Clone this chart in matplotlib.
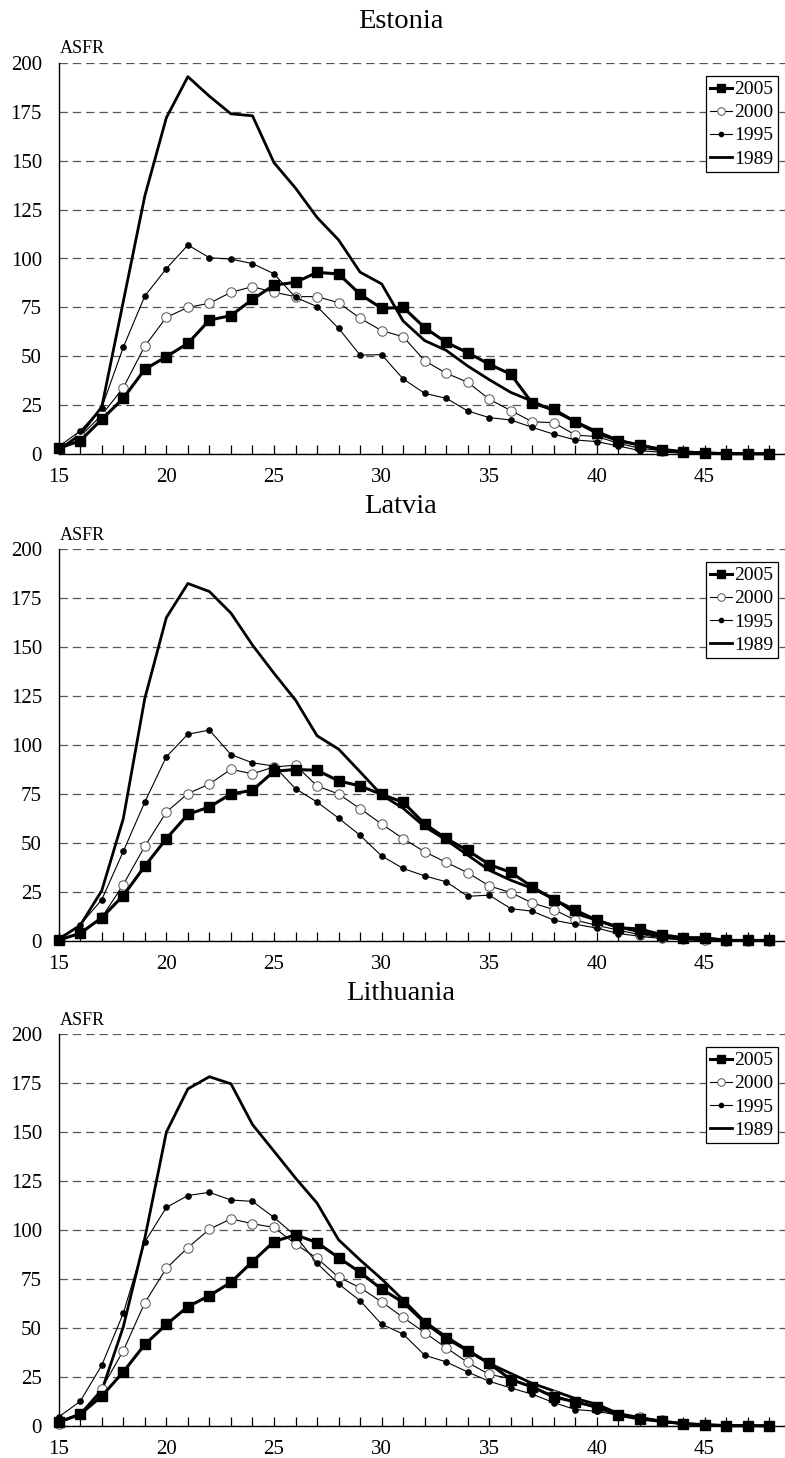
import matplotlib
matplotlib.use("Agg")
import matplotlib.pyplot as plt
from matplotlib.ticker import MultipleLocator

plt.rcParams["font.family"] = ["Liberation Serif", "DejaVu Serif"]
plt.rcParams["lines.scale_dashes"] = False

ages = list(range(15, 49))
years = ["2005", "2000", "1995", "1989"]
countries = ["Estonia", "Latvia", "Lithuania"]

est_2005 = [2.9, 6.8, 17.7, 28.5, 43.3, 49.8, 56.6, 68.5, 70.8, 79.1, 86.4, 87.8, 92.9, 92.1, 81.7,
            74.5, 75.0, 64.6, 57.1, 51.8, 45.9, 40.8, 25.9, 22.8, 16.5, 10.6, 6.8, 4.6, 2.0, 1.0,
            0.5, 0.1, 0.1, 0.1]
est_2000 = [3, 9, 20, 33.9, 55.2, 69.9, 75.0, 77.1, 82.7, 85.6, 82.7, 80.5, 80.5, 77.4, 69.4,
            63.1, 60.0, 47.7, 41.3, 36.7, 28.0, 22.2, 16.5, 16.0, 9.7, 8.9, 5.5, 2.9, 1.7, 0.9,
            0.3, 0.1, 0.1, 0.1]
est_1995 = [3.8, 11.8, 23.7, 54.6, 80.8, 94.8, 106.9, 100.4, 99.7, 97.4, 92.2, 80.1, 75.4, 64.3, 50.6,
            50.8, 38.4, 31.0, 28.5, 22.0, 18.6, 17.4, 13.6, 10.1, 7.2, 6.3, 4.1, 1.7, 0.9, 0.5,
            0.2, 0.1, 0.1, 0.1]
est_1989 = [2, 10, 24, 78, 132, 172, 193, 183, 174, 173, 149, 136, 121, 109.5, 93,
            87, 68, 58, 53, 45, 38, 31.5, 27, 22, 16.5, 11.5, 7, 4.5, 2.5, 1.2,
            0.5, 0.3, 0.2, 0.1]

lat_2005 = [0.5, 3.9, 11.9, 23.2, 38.2, 52.2, 64.6, 68.4, 75.0, 76.9, 86.6, 87.5, 87.1, 81.7, 79.1,
            74.8, 70.8, 59.7, 52.3, 46.2, 39.0, 35.0, 27.6, 21.1, 15.7, 10.6, 6.8, 6.1, 3.2, 1.7,
            1.7, 0.3, 0.3, 0.3]
lat_2000 = [0.5, 4.4, 12, 28.8, 48.3, 65.8, 75.2, 80.1, 87.6, 85.3, 88.8, 89.7, 79.1, 75.0, 67.5,
            59.7, 52.2, 45.5, 40.1, 34.8, 28.1, 24.7, 19.4, 16.0, 10.6, 8.0, 5.5, 3.2, 1.7, 1.0,
            0.7, 0.2, 0.2, 0.2]
lat_1995 = [0.5, 8.2, 21.1, 45.7, 70.9, 94.0, 105.5, 107.6, 95.1, 90.9, 89.3, 77.7, 70.9, 62.7, 53.9,
            43.4, 37.0, 33.2, 30.2, 22.8, 23.4, 16.5, 15.2, 10.6, 8.5, 6.6, 3.8, 2.4, 1.2, 0.7,
            0.5, 0.1, 0.1, 0.1]
lat_1989 = [1, 8, 25.7, 62.4, 123.8, 165, 182.4, 178.3, 167.3, 151, 136.6, 122.9, 104.7, 97.9, 86.3,
            74.5, 67.7, 58.3, 51.5, 43.8, 36.1, 31.0, 26.8, 21.7, 14.0, 10.6, 7.2, 4.6, 2.0, 1.2,
            0.5, 0.3, 0.2, 0.1]

lit_2005 = [2, 6, 15.2, 27.6, 41.6, 51.8, 60.9, 66.5, 73.3, 83.9, 94.1, 97.5, 93.6, 85.9, 78.4,
            69.8, 63.1, 52.7, 44.7, 38.4, 31.9, 23.7, 19.9, 14.8, 12.3, 9.7, 5.5, 3.6, 2.4, 1.2,
            0.7, 0.1, 0.1, 0.1]
lit_2000 = [1.2, 6.3, 19.1, 38.4, 62.9, 80.5, 91.0, 100.4, 105.7, 103.2, 101.3, 92.8, 85.6, 75.9, 70.6,
            63.3, 55.4, 47.6, 39.9, 32.4, 26.3, 24.2, 19.9, 15.7, 12.3, 8.9, 5.5, 4.6, 2.9, 0.9,
            0.7, 0.1, 0.1, 0.1]
lit_1995 = [4.6, 12.6, 31.0, 57.5, 93.9, 111.5, 117.6, 119.2, 115.3, 114.6, 106.4, 97, 83.0, 72.5, 63.9,
            51.9, 46.9, 36.1, 32.7, 27.5, 22.8, 19.4, 16.2, 11.9, 8.4, 7.5, 5.5, 3.8, 2.0, 0.9,
            0.3, 0.1, 0.1, 0.1]
lit_1989 = [2, 6, 18, 50.6, 95.8, 149.9, 172, 178.2, 174.6, 153.8, 140.2, 126.5, 113.7, 95, 84.7,
            75, 64.3, 53.2, 45.5, 38.7, 31.9, 26.8, 21.7, 17.9, 14.0, 11.1, 6.3, 4.3, 2.4, 1.2,
            0.5, 0.3, 0.2, 0.1]

series = {
    "Estonia": [est_2005, est_2000, est_1995, est_1989],
    "Latvia": [lat_2005, lat_2000, lat_1995, lat_1989],
    "Lithuania": [lit_2005, lit_2000, lit_1995, lit_1989],
}

W, H = 785, 1458
# pixel rows of each panel: (title baseline, ASFR baseline, axes top, axes bottom)
panel_rows = [(28, 53, 63, 454), (513, 540, 549, 941), (1000, 1025, 1034, 1426)]
AX_LEFT = 58.7

styles = [
    dict(color="black", lw=2.2, marker="s", ms=6.8, mfc="black", mec="black", zorder=7),
    dict(color="black", lw=0.8, marker="o", ms=6.8, mfc="white", mec="#555555", mew=0.7, zorder=5),
    dict(color="black", lw=0.8, marker="o", ms=3.8, mfc="black", mec="black", zorder=6),
    dict(color="black", lw=2.0, marker=None, zorder=4),
]


def draw_panel(fig, name, rows):
    t_base, a_base, top, bot = rows
    ax = fig.add_axes([AX_LEFT / W, 1 - bot / H, 1 - AX_LEFT / W, (bot - top) / H])
    for data, label, st in zip(series[name], years, styles):
        ax.plot(ages, data, label=label, clip_on=False, **st)

    ax.set_xlim(15, 15 + (W - AX_LEFT) / 21.53)
    ax.set_ylim(0, 200)
    ax.yaxis.set_major_locator(MultipleLocator(25))
    ax.xaxis.set_major_locator(MultipleLocator(5))
    ax.xaxis.set_minor_locator(MultipleLocator(1))
    ax.grid(axis="y", color="#555555", lw=0.9, linestyle=(0, (6, 3.6)))
    ax.set_axisbelow(True)
    for side in ("top", "right"):
        ax.spines[side].set_visible(False)
    for side in ("left", "bottom"):
        ax.spines[side].set_color("black")
        ax.spines[side].set_linewidth(1.0)
    ax.tick_params(axis="x", which="both", direction="in", length=6.5, width=0.9,
                   labelsize=15, pad=10)
    ax.tick_params(axis="y", length=0, labelsize=15, pad=12)

    leg = ax.legend(loc="upper right", bbox_to_anchor=(0.99, 0.967), fontsize=14,
                    frameon=True, fancybox=False, edgecolor="black", framealpha=1,
                    borderpad=0.25, labelspacing=0.28, handlelength=1.1,
                    handletextpad=0.1, borderaxespad=0, markerscale=0.8)
    leg.get_frame().set_linewidth(0.9)
    leg.set_zorder(10)

    fig.text(0.51, 1 - t_base / H, name, ha="center", va="baseline", fontsize=20.5)
    fig.text(60 / W, 1 - a_base / H, "ASFR", ha="left", va="baseline", fontsize=13)
    return ax


fig = plt.figure(figsize=(W / 100, H / 100), dpi=100)
fig.patch.set_facecolor("white")
for name, rows in zip(countries, panel_rows):
    draw_panel(fig, name, rows)

fig.savefig("out.png", dpi=100)
